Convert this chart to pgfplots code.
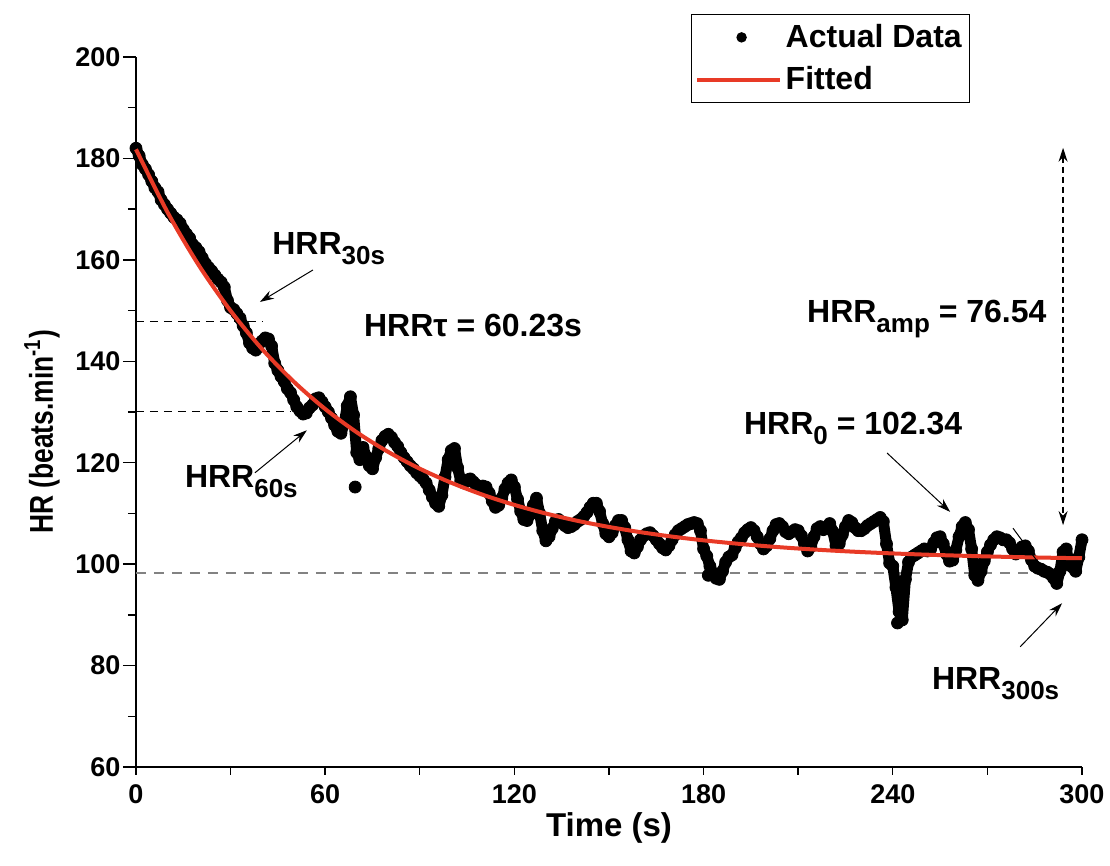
\documentclass[border=0pt]{standalone}
\usepackage{fontspec}
\setmainfont{Liberation Sans}
\newfontfamily\narrowfont[FakeStretch=0.8]{Liberation Sans}
\usepackage{pgfplots}
\usepackage{pgfplotstable}
\pgfplotsset{compat=1.18}
\usetikzlibrary{arrows.meta}
\definecolor{fitred}{RGB}{232,58,38}
\definecolor{refgrey}{RGB}{130,130,130}
\newcommand\sub[1]{\raisebox{-5pt}{\fontsize{13}{13}\selectfont\bfseries #1}}
\pgfplotstableread{
t hr
0 182.0
1 180.5
2 178.8
3 177.9
4 176.8
5 175.5
6 174.2
7 173.4
8 171.8
9 170.9
10 170.0
11 169.2
12 168.4
13 167.9
14 167.2
15 166.0
16 165.1
17 164.3
18 163.0
19 162.4
20 161.6
21 160.4
22 159.3
23 158.5
24 157.8
25 157.0
26 156.2
27 155.6
28 154.6
29 152.0
30 150.6
31 150.2
32 149.4
33 148.5
34 147.0
35 145.6
36 143.6
37 142.6
38 142.2
39 143.4
40 144.0
41 144.6
42 144.4
43 143.0
44 139.6
45 138.2
46 137.0
47 136.0
48 134.6
49 133.8
50 132.4
51 131.0
52 130.2
53 129.6
54 129.8
55 130.8
56 131.4
57 132.6
58 132.8
59 132.0
60 131.0
61 130.0
62 128.8
63 127.4
64 126.2
65 125.8
66 127.6
67 131.2
68 133.0
69 129.4
70 122.0
71 120.6
72 123.0
73 121.2
74 119.4
75 118.8
76 121.0
77 122.8
78 124.4
79 125.2
80 125.6
81 125.0
82 124.0
83 123.2
84 122.0
85 121.0
86 120.2
87 119.4
88 118.8
89 118.0
90 117.4
91 116.8
92 116.0
93 114.6
94 113.2
95 112.0
96 111.4
97 113.6
98 117.2
99 120.6
100 122.4
101 122.8
102 119.0
103 116.4
104 116.0
105 116.6
106 116.8
107 116.2
108 115.6
109 115.0
110 115.4
111 115.2
112 114.0
113 112.4
114 111.2
115 111.6
116 113.0
117 114.8
118 116.0
119 116.6
120 115.2
121 112.8
122 110.4
123 108.8
124 108.6
125 109.8
126 111.6
127 113.0
128 110.0
129 106.6
130 104.6
131 105.4
132 107.0
133 108.4
134 108.8
135 108.2
136 107.6
137 107.2
138 107.4
139 107.8
140 108.4
141 108.8
142 109.4
143 110.2
144 111.2
145 112.0
146 112.0
147 110.4
148 108.0
149 106.0
150 105.4
151 106.2
152 107.6
153 108.6
154 108.6
155 107.2
156 104.8
157 102.6
158 102.2
159 103.4
160 104.8
161 105.6
162 106.0
163 106.2
164 105.6
165 104.8
166 104.0
167 103.2
168 102.8
169 103.6
170 104.8
171 105.8
172 106.6
173 107.0
174 107.4
175 107.8
176 108.0
177 108.2
178 108.0
179 106.6
180 103.0
181 101.6
182 99.6
183 98.2
184 97.2
185 97.0
186 98.6
187 100.4
188 101.4
189 101.8
190 103.2
191 104.4
192 105.2
193 106.2
194 106.8
195 107.2
196 106.6
197 105.4
198 104.0
199 103.0
200 103.6
201 105.0
202 106.6
203 107.8
204 108.0
205 107.4
206 106.4
207 106.0
208 106.4
209 106.8
210 106.6
211 105.6
212 104.0
213 102.6
214 103.4
215 105.4
216 107.0
217 107.4
218 106.8
219 107.2
220 108.0
221 106.4
222 103.6
223 104.0
224 105.8
225 107.4
226 108.6
227 108.2
228 107.2
229 106.6
230 106.6
231 107.0
232 107.6
233 108.0
234 108.4
235 108.8
236 109.2
237 108.4
238 104.0
239 100.2
240 99.6
241 95.4
242 90.6
243 89.0
244 97.0
245 100.4
246 101.4
247 101.8
248 102.2
249 102.6
250 103.0
251 102.6
252 103.0
253 104.2
254 105.2
255 105.4
256 104.0
257 102.0
258 100.6
259 100.8
260 102.8
261 105.4
262 107.4
263 108.2
264 106.8
265 103.0
266 97.8
267 96.8
268 98.6
269 100.6
270 102.4
271 103.8
272 104.8
273 105.4
274 105.2
275 104.8
276 104.8
277 104.2
278 103.0
279 102.0
280 102.6
281 103.4
282 103.6
283 102.6
284 100.8
285 99.6
286 99.2
287 99.0
288 98.6
289 98.4
290 98.0
291 97.2
292 96.2
293 98.6
294 102.4
295 103.0
296 99.8
297 99.4
298 98.6
299 101.4
300 104.8
}\hrdata
\pgfplotstableread{
t fit
0 181.80
10 169.38
20 158.85
30 149.95
40 142.39
50 136.00
60 130.59
70 126.00
80 122.12
90 118.82
100 116.04
110 113.67
120 111.68
130 109.98
140 108.54
150 107.33
160 106.30
170 105.43
180 104.69
190 104.07
200 103.53
210 103.08
220 102.70
230 102.38
240 102.11
250 101.88
260 101.69
270 101.52
280 101.38
290 101.26
300 101.16
}\fitdata
\begin{document}
\begin{tikzpicture}
\useasboundingbox (-68pt,-49.5pt) rectangle (487pt,383.5pt);
\begin{axis}[
  scale only axis, width=473pt, height=355pt,
  xmin=0, xmax=300, ymin=60, ymax=200,
  axis x line*=bottom, axis y line*=left,
  axis line style={line width=0.8pt, black},
  xtick={0,60,...,300}, minor x tick num=1,
  ytick={60,80,...,200}, minor y tick num=1,
  tick align=outside,
  tick style={black, line width=0.7pt},
  x tick style={/pgfplots/major tick length=4pt, /pgfplots/minor tick length=4pt},
  y tick style={/pgfplots/major tick length=6.5pt, /pgfplots/minor tick length=4pt},
  /pgf/number format/assume math mode=true,
  tick label style={font=\fontsize{13.5}{16}\selectfont\bfseries},
  xticklabel style={yshift=-1pt},
  xlabel={Time (s)}, ylabel={HR (beats.min\textsuperscript{-1})},
  xlabel style={font=\fontsize{16.5}{19}\selectfont\bfseries, at={(axis description cs:0.5,-0.086)}, anchor=center},
  ylabel style={font=\narrowfont\fontsize{16.5}{19}\selectfont\bfseries, at={(axis description cs:-0.0994,0.472)}, anchor=center, rotate=0},
  clip=false, clip marker paths=true,
  legend style={at={(0.882,1.061)}, anchor=north east, draw=black, line width=0.6pt,
    font=\fontsize{16}{19}\selectfont\bfseries, inner xsep=2pt, inner ysep=3pt, row sep=4pt},
  legend cell align=left,
]
% reference lines
\addplot[refgrey, line width=0.8pt, dash pattern=on 5pt off 4pt, forget plot] coordinates {(0,98.2) (300,98.2)};
\addplot[black, line width=0.5pt, dash pattern=on 4pt off 3pt, forget plot] coordinates {(0,147.9) (40,147.9)};
\addplot[black, line width=0.5pt, dash pattern=on 4pt off 3pt, forget plot] coordinates {(0,130.0) (49,130.0)};
% actual data: band and dots
\addplot[black, line width=5.5pt, line join=round, line cap=round, forget plot] table[x=t, y=hr] {\hrdata};
\addplot[only marks, mark=*, mark size=3pt, black, forget plot] coordinates {(69.5,115.2) (181.5,97.8) (241.5,88.4)};
\addplot[only marks, mark=*, mark size=3pt, black,
  legend image code/.code={\fill[black] (0.78cm,0cm) circle (2.3pt);}]
  table[x=t, y=hr] {\hrdata};
\addlegendentry{Actual Data}
% fitted curve
\addplot[fitred, line width=2pt, smooth,
  legend image code/.code={\draw[fitred, line width=2pt] (0cm,0cm) -- (1.45cm,0cm);}]
  table[x=t, y=fit] {\fitdata};
\addlegendentry{Fitted}
% annotations
\node[anchor=base west, font=\fontsize{16}{19}\selectfont\bfseries] at (axis cs:41,161) {HRR\sub{30s}};
\draw[-{Stealth[length=7pt,width=4.5pt]}, line width=0.5pt] (axis cs:56.1,158.0) -- (axis cs:39.3,151.7);
\node[anchor=base west, font=\fontsize{16}{19}\selectfont\bfseries] at (axis cs:70.1,144.8) {HRRτ = 60.23s};
\node[anchor=base west, font=\fontsize{16}{19}\selectfont\bfseries] at (axis cs:13.3,115.2) {HRR\sub{60s}};
\draw[-{Stealth[length=7pt,width=4.5pt]}, line width=0.5pt] (axis cs:37.7,118.0) -- (axis cs:54.2,126.4);
\node[anchor=base west, font=\fontsize{16}{19}\selectfont\bfseries] at (axis cs:210.6,147.7) {HRR\sub{amp} = 76.54};
\node[anchor=base west, font=\fontsize{16}{19}\selectfont\bfseries] at (axis cs:190.6,125.5) {HRR\sub{0} = 102.34};
\draw[-{Stealth[length=7pt,width=4.5pt]}, line width=0.5pt] (axis cs:238.2,121.9) -- (axis cs:258.2,110.3);
\node[anchor=base west, font=\fontsize{16}{19}\selectfont\bfseries] at (axis cs:250.2,75.2) {HRR\sub{300s}};
\draw[-{Stealth[length=7pt,width=4.5pt]}, line width=0.5pt] (axis cs:280.4,83.7) -- (axis cs:293.7,92.3);
\draw[line width=0.5pt] (axis cs:278.1,107.1) -- (axis cs:285.8,100.6);
\draw[{Stealth[length=7pt,width=4.5pt]}-{Stealth[length=7pt,width=4.5pt]}, line width=0.6pt, dash pattern=on 3pt off 2pt] (axis cs:294.0,182.1) -- (axis cs:294.0,107.7);
\end{axis}
\end{tikzpicture}
\end{document}
